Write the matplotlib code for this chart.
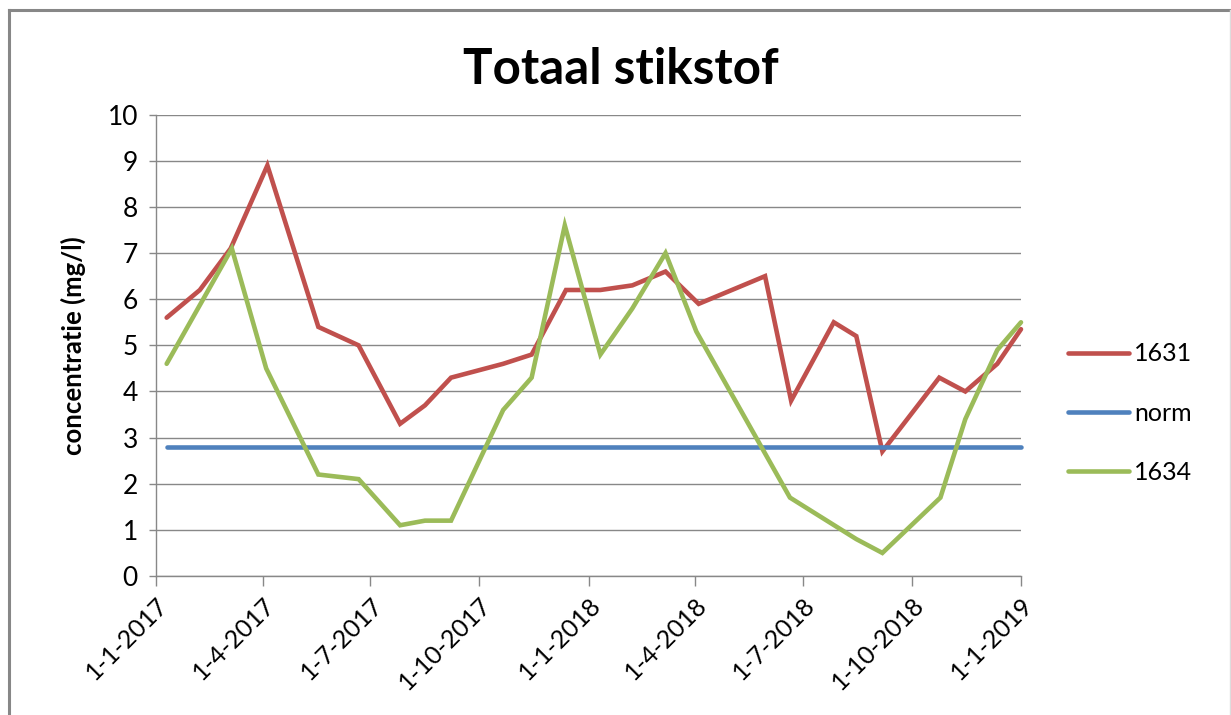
import matplotlib
matplotlib.use("Agg")
import matplotlib.pyplot as plt
import pandas as pd
from matplotlib.lines import Line2D

plt.rcParams['font.family'] = ['Lato', 'DejaVu Sans']

title = "Totaal stikstof"
ylabel = "concentratie (mg/l)"

dates_1631 = ["2017-01-10", "2017-02-07", "2017-03-05", "2017-04-05", "2017-05-18",
              "2017-06-21", "2017-07-26", "2017-08-16", "2017-09-07", "2017-10-21",
              "2017-11-14", "2017-12-13", "2018-01-11", "2018-02-07", "2018-03-07",
              "2018-04-04", "2018-05-30", "2018-06-21", "2018-07-27", "2018-08-15",
              "2018-09-06", "2018-10-24", "2018-11-15", "2018-12-12", "2019-01-01"]
values_1631 = [5.6, 6.2, 7.1, 8.9, 5.4, 5.0, 3.3, 3.7, 4.3, 4.6, 4.8, 6.2, 6.2, 6.3, 6.6,
               5.9, 6.5, 3.8, 5.5, 5.2, 2.7, 4.3, 4.0, 4.6, 5.35]

dates_norm = ["2017-01-10", "2019-01-01"]
values_norm = [2.8, 2.8]

dates_1634 = ["2017-01-10", "2017-03-06", "2017-04-04", "2017-05-18", "2017-06-21",
              "2017-07-26", "2017-08-16", "2017-09-07", "2017-10-21", "2017-11-14",
              "2017-12-12", "2018-01-11", "2018-02-07", "2018-03-07", "2018-04-02",
              "2018-06-20", "2018-08-15", "2018-09-06", "2018-10-25", "2018-11-15",
              "2018-12-12", "2019-01-01"]
values_1634 = [4.6, 7.1, 4.5, 2.2, 2.1, 1.1, 1.2, 1.2, 3.6, 4.3, 7.6, 4.8, 5.8, 7.0, 5.3,
               1.7, 0.8, 0.5, 1.7, 3.4, 4.9, 5.5]

tick_dates = ["2017-01-01", "2017-04-01", "2017-07-01", "2017-10-01", "2018-01-01",
              "2018-04-01", "2018-07-01", "2018-10-01", "2019-01-01"]
tick_labels = ["1-1-2017", "1-4-2017", "1-7-2017", "1-10-2017", "1-1-2018",
               "1-4-2018", "1-7-2018", "1-10-2018", "1-1-2019"]

series = [("1631", dates_1631, values_1631, "#C0504D"),
          ("norm", dates_norm, values_norm, "#4F81BD"),
          ("1634", dates_1634, values_1634, "#9BBB59")]

W, H = 1231, 715
fig = plt.figure(figsize=(W / 100, H / 100), dpi=100)
fig.patch.set_facecolor("white")

ax = fig.add_axes([156 / W, 1 - 576 / H, (1021 - 156) / W, (576 - 114.7) / H])

grid_c = "#888888"
for name, d, v, c in series:
    ax.plot(pd.to_datetime(d), v, color=c, lw=3.3, solid_capstyle="round",
            solid_joinstyle="miter", label=name, zorder=3, clip_on=False)

ax.set_xlim(pd.Timestamp(tick_dates[0]), pd.Timestamp(tick_dates[-1]))
ax.set_ylim(0, 10)
ax.set_yticks(range(0, 11))
ax.yaxis.grid(True, color=grid_c, lw=1.0, zorder=0)
ax.set_axisbelow(True)
ax.set_xticks(pd.to_datetime(tick_dates))
ax.set_xticklabels(tick_labels, rotation=45, ha="right", va="top",
                   rotation_mode="anchor", fontsize=18)
ax.tick_params(axis="y", labelsize=19, length=5, color=grid_c, width=1, pad=8)
ax.tick_params(axis="x", length=7, color=grid_c, width=1, pad=5)

for s in ["top", "right"]:
    ax.spines[s].set_visible(False)
for s in ["left", "bottom"]:
    ax.spines[s].set_color(grid_c)
    ax.spines[s].set_linewidth(1.0)

fig.text(73 / W, 1 - 346 / H, ylabel, rotation=90, ha="center", va="center",
         fontsize=18.5, fontweight="bold")

fig.text(621 / W, 1 - 70 / H, title, ha="center", va="center",
         fontsize=35.5, fontweight="bold")

handles = [Line2D([0], [0], color=c, lw=3.3, solid_capstyle="round") for _, _, _, c in series]
leg = fig.legend(handles, [s[0] for s in series], loc="center left",
                 bbox_to_anchor=(1068 / W, 1 - 413 / H), frameon=False,
                 fontsize=18, handlelength=2.45, handletextpad=0.2,
                 labelspacing=1.45, borderpad=0, borderaxespad=0)

# outer chart border (top and left visible in reference)
fig.add_artist(Line2D([9 / W, 1], [1 - 10 / H, 1 - 10 / H], color="#878787", lw=2.2,
                      transform=fig.transFigure))
fig.add_artist(Line2D([9 / W, 9 / W], [1 - 10 / H, 0], color="#878787", lw=2.2,
                      transform=fig.transFigure))
fig.add_artist(Line2D([1230 / W, 1230 / W], [1 - 10 / H, 0], color="#dddddd", lw=1,
                      transform=fig.transFigure))

fig.savefig("out.png", dpi=100)
